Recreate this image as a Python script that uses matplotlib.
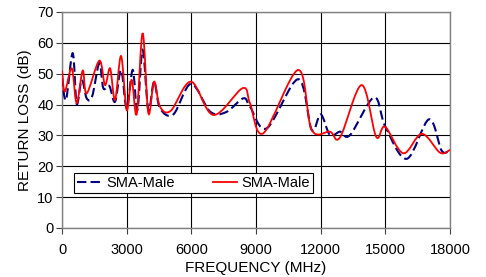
import matplotlib
matplotlib.use("Agg")
import matplotlib.pyplot as plt
from matplotlib.path import Path
from matplotlib.patches import PathPatch
from matplotlib.lines import Line2D
import numpy as np

plt.rcParams['font.family'] = ['Liberation Sans', 'DejaVu Sans']

# Values (MHz, dB)
freq_a = [0, 185, 495, 680, 915, 1145, 1400, 1730, 1915, 2195, 2460, 2740, 3000,
          3280, 3495, 3740, 4005, 4270, 4545, 5165, 5985, 6870, 7600, 8410, 8720,
          9500, 10960, 11580, 12000, 12430, 12900, 13360, 14475, 15000, 15990,
          17025, 17615, 18000]
loss_a = [49, 41.5, 56.6, 40.2, 48, 42, 42.7, 53.4, 45.3, 46, 40.9, 51.2, 38.8,
          51.2, 38.2, 57.7, 38.2, 47.4, 38.8, 36.8, 46.7, 37.7, 37.5, 42, 39.3,
          32.3, 48.2, 31.8, 36.8, 30.1, 31.2, 30.1, 42.3, 32.8, 22.4,
          35.2, 25.0, 25.3]

freq_b = [0, 130, 450, 680, 960, 1145, 1730, 1995, 2230, 2460, 2740, 3000, 3230,
          3465, 3740, 4005, 4270, 4545, 5050, 5985, 7020, 8380, 8720, 9340,
          10960, 11580, 12430, 12900, 13900, 14570, 14985, 15830, 16690, 17535,
          18000]
loss_b = [51, 44.2, 51.7, 40.5, 51, 43.6, 54.2, 46.3, 51.7, 41.5, 55.7, 38.2, 48,
          36.9, 63.1, 37.2, 47.4, 39.3, 38, 47.4, 36.6, 45.3, 40.4, 30.7,
          51.2, 31.8, 31.2, 29.4, 46.3, 29.6, 32.8, 24.2, 30.5, 24.4,
          25.3]

labels = ["SMA-Male", "SMA-Male"]


def smooth_path(x, y):
    # Excel style smoothed line: Catmull-Rom segments as cubic Beziers
    x = np.asarray(x, float)
    y = np.asarray(y, float)
    verts = [(x[0], y[0])]
    codes = [Path.MOVETO]
    n = len(x)
    for i in range(n - 1):
        i0 = max(i - 1, 0)
        i3 = min(i + 2, n - 1)
        c1 = (x[i] + (x[i + 1] - x[i0]) / 6, y[i] + (y[i + 1] - y[i0]) / 6)
        c2 = (x[i + 1] - (x[i3] - x[i]) / 6, y[i + 1] - (y[i3] - y[i]) / 6)
        verts += [c1, c2, (x[i + 1], y[i + 1])]
        codes += [Path.CURVE4] * 3
    return Path(verts, codes)


dash = (0, (4.5, 2))

fig = plt.figure(figsize=(4.86, 2.77), dpi=100)
ax = fig.add_axes([0.1276, 0.177, 0.7984, 0.780])

ax.add_patch(PathPatch(smooth_path(freq_a, loss_a), fill=False, edgecolor='#000080',
                       lw=1.5, linestyle=dash, zorder=3))
ax.add_patch(PathPatch(smooth_path(freq_b, loss_b), fill=False, edgecolor='#ff0000',
                       lw=1.3, zorder=4))

ax.set_xlim(0, 18000)
ax.set_ylim(0, 70)
ax.set_xticks(np.arange(0, 18001, 3000))
ax.set_yticks(np.arange(0, 71, 10))
ax.grid(True, color='#000000', lw=0.8)
ax.set_axisbelow(True)
for s in ax.spines.values():
    s.set_color('#808080')
    s.set_linewidth(1.0)
ax.tick_params(labelsize=10.5, length=4, color='#404040', pad=2)
ax.tick_params(axis='x', pad=7)
ax.set_xlabel("FREQUENCY (MHz)", fontsize=11, labelpad=3)
ax.set_ylabel("RETURN LOSS (dB)", fontsize=11, labelpad=4)

handles = [Line2D([], [], color='#000080', lw=1.5, linestyle=dash),
           Line2D([], [], color='#ff0000', lw=1.3)]
leg = ax.legend(handles, labels, ncol=2, loc='lower left', bbox_to_anchor=(0.031, 0.162),
                borderaxespad=0, fontsize=10.5, frameon=True, fancybox=False,
                framealpha=1, edgecolor='#000000', handlelength=1.7,
                columnspacing=2.6, borderpad=0.2, handletextpad=0.3)
leg.get_frame().set_linewidth(0.8)

fig.savefig("out.png", dpi=100)
